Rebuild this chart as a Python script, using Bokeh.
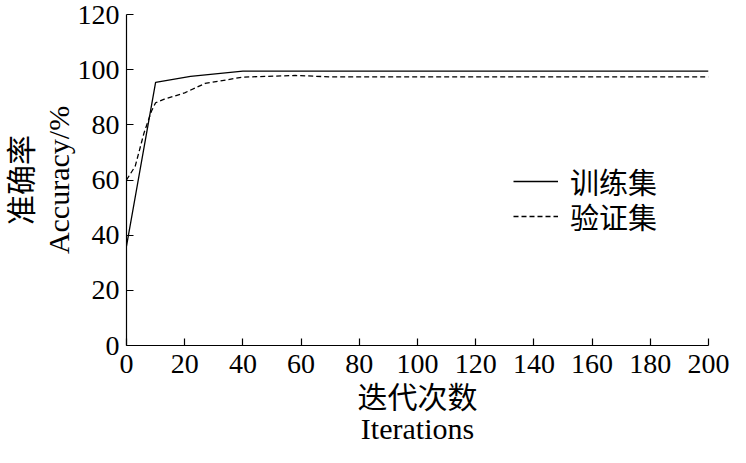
from bokeh.plotting import figure
from bokeh.models import Range1d, FixedTicker, Legend, LegendItem
from bokeh.embed import file_html
from bokeh.resources import INLINE

# ---- data ----
train_x = [0, 10, 22, 40, 60, 80, 100, 120, 140, 160, 180, 200]
train_acc = [36, 95.4, 97.6, 99.5, 99.5, 99.5, 99.5, 99.5, 99.5, 99.5, 99.5, 99.5]
val_x = [0, 3, 6, 8.6, 10, 13, 20, 27, 40, 58, 70, 100, 150, 200]
val_acc = [60, 65, 77, 85, 88, 89.3, 91.6, 95, 97.3, 97.9, 97.4, 97.4, 97.4, 97.4]
x_ticks = [0, 20, 40, 60, 80, 100, 120, 140, 160, 180, 200]
y_ticks = [0, 20, 40, 60, 80, 100, 120]
legend_labels = ["训练集", "验证集"]
x_label = "迭代次数\nIterations"
y_label = "准确率\nAccuracy/%"

SERIF = "'Liberation Serif', 'Noto Sans CJK SC'"

p = figure(width=730, height=447, output_backend="svg", toolbar_location=None,
           x_range=Range1d(0, 200), y_range=Range1d(0, 120),
           min_border_left=126, min_border_right=22, min_border_top=14,
           min_border_bottom=102)
p.outline_line_color = None
p.grid.visible = False
p.background_fill_color = "white"

r1 = p.line(train_x, train_acc, line_color="black", line_width=1.3)
r2 = p.line(val_x, val_acc, line_color="black", line_width=1.3, line_dash="5 3")

for ax, ticks in ((p.xaxis[0], x_ticks), (p.yaxis[0], y_ticks)):
    ax.ticker = FixedTicker(ticks=ticks)
    ax.major_tick_in = 7
    ax.major_tick_out = 0
    ax.minor_tick_in = 0
    ax.minor_tick_out = 0
    ax.axis_line_color = "black"
    ax.axis_line_width = 1.2
    ax.major_tick_line_color = "black"
    ax.major_tick_line_width = 1.2
    ax.major_label_text_font = SERIF
    ax.major_label_text_font_size = "28px"
    ax.major_label_text_color = "black"
    ax.axis_label_text_font = SERIF
    ax.axis_label_text_font_size = "30px"
    ax.axis_label_text_font_style = "normal"
    ax.axis_label_text_color = "black"

p.xaxis[0].axis_label = x_label
p.yaxis[0].axis_label = y_label
p.xaxis[0].axis_label_text_line_height = 0.95
p.yaxis[0].axis_label_text_line_height = 1.12
p.xaxis[0].major_label_standoff = 9
p.yaxis[0].major_label_standoff = 7
p.xaxis[0].axis_label_standoff = 5
p.yaxis[0].axis_label_standoff = 0

leg_common = dict(border_line_color=None, background_fill_alpha=0, padding=0,
                  margin=0, spacing=0, glyph_width=45, glyph_height=20,
                  label_height=20, label_standoff=12, label_text_font=SERIF,
                  label_text_font_size="29px", label_text_color="black")
leg1 = Legend(items=[LegendItem(label=legend_labels[0], renderers=[r1])],
              location=(387, 143), **leg_common)
leg2 = Legend(items=[LegendItem(label=legend_labels[1], renderers=[r2])],
              location=(387, 108), **leg_common)
p.add_layout(leg1)
p.add_layout(leg2)

open("out.html", "w").write(file_html(p, INLINE))
